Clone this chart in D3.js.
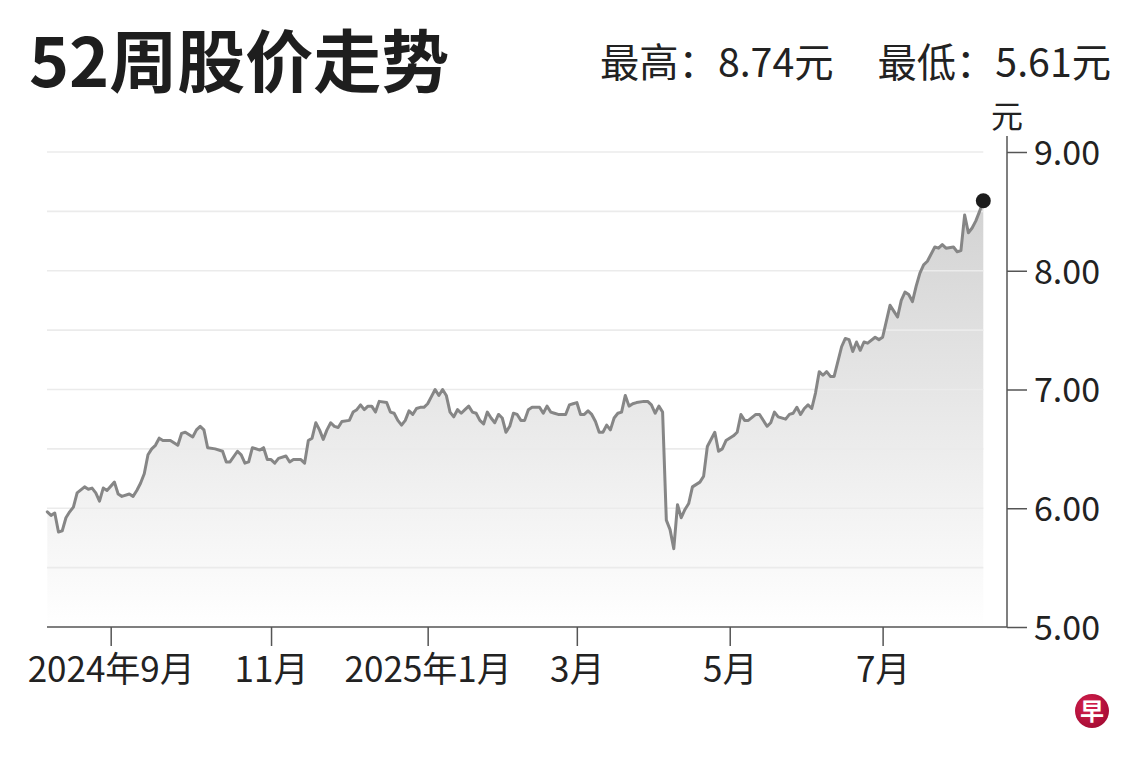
<!DOCTYPE html>
<html>
<head>
<meta charset="utf-8">
<script src="https://cdn.jsdelivr.net/npm/d3@7"></script>
<style>
  html, body { margin: 0; padding: 0; background: #ffffff; }
  svg { display: block; }
</style>
</head>
<body>
<script>
// ---------------- DATA ----------------
const titleText = "52周股价走势";
const highText = "最高：8.74元";
const lowText = "最低：5.61元";
const unitText = "元";

// Trading calendar (SGX): weekdays between start and end, minus holidays
const startDate = "2024-08-07";
const endDate = "2025-08-07";
const holidays = ["2024-08-09","2024-10-31","2024-12-25","2025-01-01","2025-01-29","2025-01-30",
                  "2025-03-31","2025-04-18","2025-05-01","2025-05-12"];

const dates = [
  "2024-08-07","2024-08-08","2024-08-12","2024-08-13","2024-08-14","2024-08-15","2024-08-16","2024-08-19","2024-08-20","2024-08-22","2024-08-23","2024-08-26","2024-08-27","2024-08-28","2024-08-29","2024-08-30",
  "2024-09-03","2024-09-04","2024-09-05","2024-09-09","2024-09-10","2024-09-11","2024-09-12","2024-09-13","2024-09-16","2024-09-17","2024-09-18","2024-09-19","2024-09-20","2024-09-24","2024-09-26","2024-09-27","2024-09-30",
  "2024-10-02","2024-10-03","2024-10-04","2024-10-07","2024-10-08","2024-10-10","2024-10-14","2024-10-15","2024-10-16","2024-10-18","2024-10-21","2024-10-22","2024-10-23","2024-10-24","2024-10-28","2024-10-29","2024-10-30",
  "2024-11-01","2024-11-04","2024-11-05","2024-11-07","2024-11-08","2024-11-11","2024-11-13","2024-11-14","2024-11-15","2024-11-18","2024-11-19","2024-11-20","2024-11-21","2024-11-22","2024-11-25","2024-11-26","2024-11-27","2024-11-28",
  "2024-12-02","2024-12-03","2024-12-04","2024-12-05","2024-12-06","2024-12-09","2024-12-10","2024-12-11","2024-12-12","2024-12-16","2024-12-17","2024-12-18","2024-12-19","2024-12-20","2024-12-23","2024-12-24","2024-12-26","2024-12-27","2024-12-30","2024-12-31",
  "2025-01-02","2025-01-03","2025-01-06","2025-01-07","2025-01-08","2025-01-09","2025-01-10","2025-01-13","2025-01-14","2025-01-15","2025-01-16","2025-01-17","2025-01-20","2025-01-21","2025-01-22","2025-01-23","2025-01-24","2025-01-27","2025-01-28","2025-01-31",
  "2025-02-03","2025-02-04","2025-02-05","2025-02-06","2025-02-07","2025-02-10","2025-02-11","2025-02-12","2025-02-13","2025-02-17","2025-02-18","2025-02-19","2025-02-20","2025-02-21","2025-02-24","2025-02-26","2025-02-27","2025-02-28",
  "2025-03-03","2025-03-04","2025-03-05","2025-03-06","2025-03-07","2025-03-10","2025-03-11","2025-03-12","2025-03-13","2025-03-14","2025-03-17","2025-03-18","2025-03-19","2025-03-20","2025-03-21","2025-03-24","2025-03-25","2025-03-27","2025-03-28",
  "2025-04-01","2025-04-02","2025-04-03","2025-04-04","2025-04-07","2025-04-08","2025-04-09","2025-04-10","2025-04-11","2025-04-14","2025-04-15","2025-04-16","2025-04-21","2025-04-22","2025-04-23","2025-04-25","2025-04-28","2025-04-29","2025-04-30",
  "2025-05-05","2025-05-06","2025-05-07","2025-05-08","2025-05-09","2025-05-14","2025-05-15","2025-05-19","2025-05-20","2025-05-21","2025-05-22","2025-05-26","2025-05-27","2025-05-28","2025-05-29","2025-05-30",
  "2025-06-02","2025-06-03","2025-06-04","2025-06-05","2025-06-06","2025-06-09","2025-06-10","2025-06-11","2025-06-12","2025-06-16","2025-06-17","2025-06-18","2025-06-19","2025-06-20","2025-06-23","2025-06-24","2025-06-25","2025-06-27","2025-06-30",
  "2025-07-01","2025-07-03","2025-07-04","2025-07-07","2025-07-08","2025-07-09","2025-07-10","2025-07-11","2025-07-14","2025-07-15","2025-07-16","2025-07-17","2025-07-21","2025-07-22","2025-07-23","2025-07-24","2025-07-28","2025-07-29","2025-07-30","2025-07-31",
  "2025-08-01","2025-08-04","2025-08-05","2025-08-06","2025-08-07"
];

const prices = [
  5.97,5.94,5.96,5.80,5.81,5.92,5.97,6.01,6.13,6.18,6.16,6.17,6.13,6.06,6.17,6.15,
  6.22,6.12,6.10,6.12,6.10,6.15,6.21,6.29,6.45,6.50,6.53,6.59,6.57,6.57,6.53,6.63,6.64,
  6.60,6.66,6.69,6.66,6.51,6.50,6.48,6.39,6.39,6.48,6.45,6.38,6.39,6.51,6.49,6.51,6.41,
  6.41,6.38,6.42,6.44,6.39,6.41,6.41,6.38,6.57,6.59,6.72,6.66,6.58,6.66,6.72,6.69,6.68,6.73,
  6.74,6.81,6.83,6.87,6.83,6.86,6.86,6.81,6.90,6.89,6.81,6.80,6.74,6.70,6.74,6.82,6.79,6.84,6.85,6.85,
  6.88,6.94,7.00,6.95,7.00,6.95,6.81,6.77,6.83,6.80,6.83,6.86,6.81,6.80,6.74,6.71,6.81,6.76,6.72,6.79,
  6.76,6.64,6.69,6.80,6.79,6.74,6.74,6.83,6.85,6.85,6.80,6.86,6.81,6.80,6.79,6.79,6.87,6.88,
  6.89,6.79,6.79,6.82,6.79,6.73,6.64,6.64,6.70,6.66,6.76,6.80,6.81,6.95,6.86,6.88,6.89,6.90,6.90,
  6.87,6.80,6.86,6.81,5.90,5.82,5.66,6.03,5.92,5.99,6.04,6.18,6.22,6.27,6.52,6.64,6.48,6.50,6.57,
  6.61,6.64,6.79,6.74,6.74,6.79,6.79,6.69,6.72,6.81,6.77,6.75,6.79,6.80,6.85,6.79,
  6.84,6.87,6.84,6.97,7.15,7.12,7.15,7.11,7.11,7.36,7.43,7.42,7.32,7.40,7.33,7.40,7.39,7.44,7.42,
  7.44,7.71,7.66,7.61,7.75,7.82,7.80,7.74,7.87,7.98,8.05,8.08,8.20,8.19,8.22,8.19,8.20,8.16,8.17,8.47,
  8.32,8.36,8.42,8.50,8.59
];

const tickDates = ["2024-09-02","2024-11-01","2025-01-02","2025-03-03","2025-05-02","2025-07-01"];
const tickLabels = ["2024年9月","11月","2025年1月","3月","5月","7月"];
const yTicks = [5, 6, 7, 8, 9];
const gridValues = [5.5, 6, 6.5, 7, 7.5, 8, 8.5, 9];
const yDomain = [5, 9];

// ---------------- CHART ----------------
const W = 1140, H = 760;
const FONT = "'Noto Sans CJK SC','Noto Sans',sans-serif";
const plot = { left: 47, right: 1007, dataRight: 983.3, top: 152, bottom: 627, axisTop: 136 };

const parse = d3.utcParse("%Y-%m-%d"), fmt = d3.utcFormat("%Y-%m-%d");
const calendar = d3.utcDay.range(parse(startDate), d3.utcDay.offset(parse(endDate), 1))
  .filter(d => d.getUTCDay() > 0 && d.getUTCDay() < 6)
  .map(fmt)
  .filter(s => !holidays.includes(s));

const data = dates.map((d, i) => ({ date: d, price: prices[i] }));

const x = d3.scalePoint().domain(calendar).range([plot.left + 0.3, plot.dataRight]);
const y = d3.scaleLinear().domain(yDomain).range([plot.bottom, plot.top]);

const svg = d3.select("body").append("svg").attr("width", W).attr("height", H)
  .style("font-family", FONT);
svg.append("rect").attr("width", W).attr("height", H).attr("fill", "#ffffff");

const defs = svg.append("defs");
const grad = defs.append("linearGradient").attr("id", "areaGrad")
  .attr("gradientUnits", "userSpaceOnUse")
  .attr("x1", 0).attr("x2", 0)
  .attr("y1", y(d3.max(prices))).attr("y2", y(yDomain[0]));
grad.append("stop").attr("offset", 0).attr("stop-color", "#d2d2d2");
grad.append("stop").attr("offset", 1).attr("stop-color", "#ffffff");

const logoGrad = defs.append("radialGradient").attr("id", "logoGrad")
  .attr("cx", "40%").attr("cy", "35%").attr("r", "70%");
logoGrad.append("stop").attr("offset", 0).attr("stop-color", "#d8204f");
logoGrad.append("stop").attr("offset", 1).attr("stop-color", "#a30b33");

// area
svg.append("path").datum(data)
  .attr("d", d3.area().x(d => x(d.date)).y0(y(yDomain[0])).y1(d => y(d.price)))
  .attr("fill", "url(#areaGrad)");

// gridlines
svg.append("g").selectAll("line").data(gridValues).join("line")
  .attr("x1", x(calendar[0]) - 0.3).attr("x2", x(calendar[calendar.length - 1]))
  .attr("y1", d => y(d)).attr("y2", d => y(d))
  .attr("stroke", "#ebebeb").attr("stroke-width", 1.6);

// line
svg.append("path").datum(data)
  .attr("d", d3.line().x(d => x(d.date)).y(d => y(d.price)))
  .attr("fill", "none").attr("stroke", "#868686").attr("stroke-width", 3)
  .attr("stroke-linejoin", "round").attr("stroke-linecap", "round");

// last point dot
const last = data[data.length - 1];
svg.append("circle").attr("cx", x(last.date)).attr("cy", y(last.price)).attr("r", 7.5)
  .attr("fill", "#1c1c1c");

// x axis
const xAxis = svg.append("g").attr("transform", `translate(0,${plot.bottom})`)
  .call(d3.axisBottom(x).tickValues(tickDates).tickSize(19).tickSizeOuter(0)
    .tickFormat(d => tickLabels[tickDates.indexOf(d)]));
xAxis.select(".domain").remove();
xAxis.selectAll(".tick line").attr("stroke", "#555").attr("stroke-width", 1.5);
xAxis.selectAll(".tick text").attr("y", 55).attr("dy", 0)
  .attr("font-size", 35).attr("fill", "#222").style("font-family", FONT);
svg.append("line").attr("x1", plot.left).attr("x2", plot.right)
  .attr("y1", plot.bottom).attr("y2", plot.bottom)
  .attr("stroke", "#555").attr("stroke-width", 1.5);

// y axis
const yAxis = svg.append("g").attr("transform", `translate(${plot.right},0)`)
  .call(d3.axisRight(y).tickValues(yTicks).tickSize(20).tickPadding(7)
    .tickFormat(d3.format(".2f")));
yAxis.select(".domain").remove();
yAxis.selectAll(".tick line").attr("stroke", "#555").attr("stroke-width", 1.5);
yAxis.selectAll(".tick text").attr("dy", "0.36em")
  .attr("font-size", 34).attr("fill", "#222").style("font-family", FONT);
svg.append("line").attr("x1", plot.right).attr("x2", plot.right)
  .attr("y1", plot.axisTop).attr("y2", plot.bottom)
  .attr("stroke", "#555").attr("stroke-width", 1.5);

// unit
svg.append("text").attr("x", plot.right).attr("y", 128).attr("text-anchor", "middle")
  .attr("font-size", 32).attr("fill", "#222").text(unitText);

// title
svg.append("text").attr("x", 29).attr("y", 87)
  .attr("font-size", 68).attr("font-weight", 700).attr("fill", "#1e1e1e").text(titleText);

// high / low
svg.append("text").attr("x", 600).attr("y", 77)
  .attr("font-size", 39.3).attr("fill", "#222").text(highText);
svg.append("text").attr("x", 1111).attr("y", 77).attr("text-anchor", "end")
  .attr("font-size", 39.3).attr("fill", "#222").text(lowText);

// logo
const logo = svg.append("g").attr("transform", "translate(1092,711)");
logo.append("circle").attr("r", 17).attr("fill", "url(#logoGrad)");
logo.append("text").attr("text-anchor", "middle").attr("dy", "0.36em")
  .attr("font-size", 24).attr("font-weight", 700).attr("fill", "#ffffff").text("早");
</script>
</body>
</html>
